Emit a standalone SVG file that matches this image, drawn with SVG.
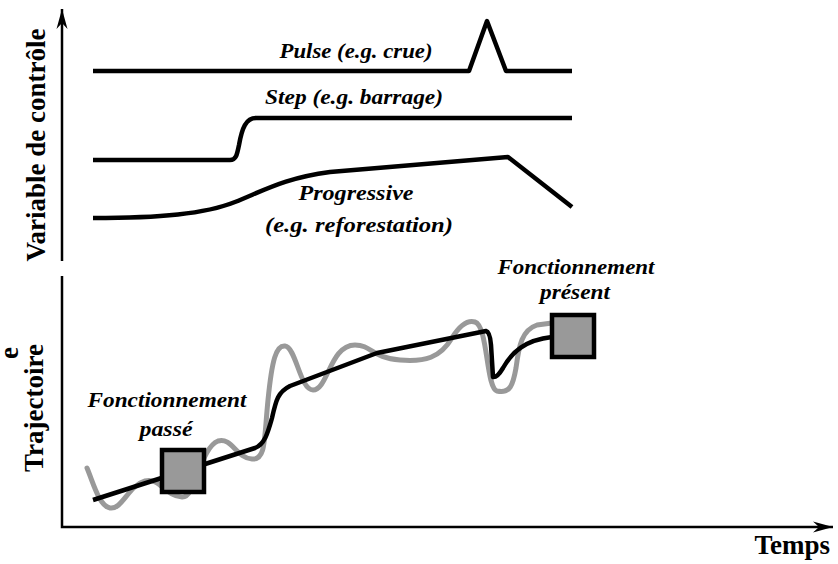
<svg xmlns="http://www.w3.org/2000/svg" width="838" height="564" viewBox="0 0 838 564">
  <style>
    .axis { fill: none; stroke: #000; stroke-width: 2.5; }
    .curve { fill: none; stroke: #000; stroke-width: 4.5; stroke-linejoin: round; stroke-linecap: butt; }
    .noisy { fill: none; stroke: #999; stroke-width: 5; stroke-linejoin: round; stroke-linecap: round; }
    .state { fill: #999; stroke: #000; stroke-width: 4.5; }
    .axis-label { font-family: "Liberation Serif", "Times New Roman", serif; font-weight: bold; font-size: 27px; fill: #000; }
    .tag { font-family: "Liberation Serif", "Times New Roman", serif; font-weight: bold; font-style: italic; font-size: 22px; fill: #000; text-anchor: middle; }
  </style>
  <defs>
    <marker id="head" markerUnits="userSpaceOnUse" markerWidth="24" markerHeight="14" viewBox="-22 -7 24 14" refX="0" refY="0" orient="auto">
      <path d="M0,0 L-20,-5.5 L-14,0 L-20,5.5 Z" fill="#000"/>
    </marker>
  </defs>
  <rect width="838" height="564" fill="#fff"/>

  <!-- axes -->
  <g id="axes">
    <line class="axis" x1="62" y1="261" x2="62" y2="9" marker-end="url(#head)"/>
    <polyline class="axis" points="62,276 62,527 833,527" marker-end="url(#head)"/>
  </g>

  <!-- axis titles -->
  <g id="axis-titles">
    <text class="axis-label" transform="translate(45,145) rotate(-90)" text-anchor="middle">Variable de contrôle</text>
    <text class="axis-label" transform="translate(43,408) rotate(-90)" text-anchor="middle">Trajectoire</text>
    <text class="axis-label" transform="translate(18,353) rotate(-90)" text-anchor="middle" font-size="38">e</text>
    <text class="axis-label" x="830" y="554" text-anchor="end" font-size="24">Temps</text>
  </g>

  <!-- control variable scenarios -->
  <g id="pulse">
    <path class="curve" stroke-linejoin="miter" d="M93,71 L469,71 L487,21 L506,71 L572,71"/>
    <text class="tag" x="356" y="58" textLength="153" lengthAdjust="spacingAndGlyphs">Pulse (e.g. crue)</text>
  </g>
  <g id="step">
    <path class="curve" d="M93,160 L230,160 C236,160 237,155 239,145 C242,128 246,118 256,118 L572,118"/>
    <text class="tag" x="354" y="104" textLength="178" lengthAdjust="spacingAndGlyphs">Step (e.g. barrage)</text>
  </g>
  <g id="progressive">
    <path class="curve" d="M93,218 C160,218 205,214 235,202 C265,190 285,178 330,172 L508,157 L572,207"/>
    <text class="tag" x="356" y="200" textLength="115" lengthAdjust="spacingAndGlyphs">Progressive</text>
    <text class="tag" x="359" y="232" textLength="188" lengthAdjust="spacingAndGlyphs">(e.g. reforestation)</text>
  </g>

  <!-- system trajectory -->
  <g id="connectors">
    <path class="noisy" d="M87,468 C93,482 99,506 110,508 C122,510 128,486 145,481 C160,477 165,496 182,497 C196,498 200,448 218,441 C232,437 236,458 252,459 C266,460 264,440 268,400 C272,360 276,345 285,346 C296,347 300,390 313,390 C328,390 330,345 355,345 C372,345 372,358 400,360 C425,362 440,358 452,338 C460,325 468,320 475,322 C488,326 486,388 497,391 C510,394 513,385 516,368 C519,345 522,330 537,325 L552,323"/>
    <path class="curve" d="M93,500 L255,448 C265,444 268,432 272,418 C276,400 278,392 290,386 L377,353 L486,331 Q490,332 491,345 L493,377 Q497,378 503,368 C512,352 525,340 552,337"/>
  </g>

  <g id="past-state">
    <rect class="state" x="162" y="450" width="42" height="42"/>
    <text class="tag" x="167" y="407" textLength="159" lengthAdjust="spacingAndGlyphs">Fonctionnement</text>
    <text class="tag" x="166" y="436" textLength="53" lengthAdjust="spacingAndGlyphs">passé</text>
  </g>
  <g id="present-state">
    <rect class="state" x="552" y="315" width="42" height="42"/>
    <text class="tag" x="576" y="274" textLength="157" lengthAdjust="spacingAndGlyphs">Fonctionnement</text>
    <text class="tag" x="575" y="299" textLength="70" lengthAdjust="spacingAndGlyphs">présent</text>
  </g>
</svg>
